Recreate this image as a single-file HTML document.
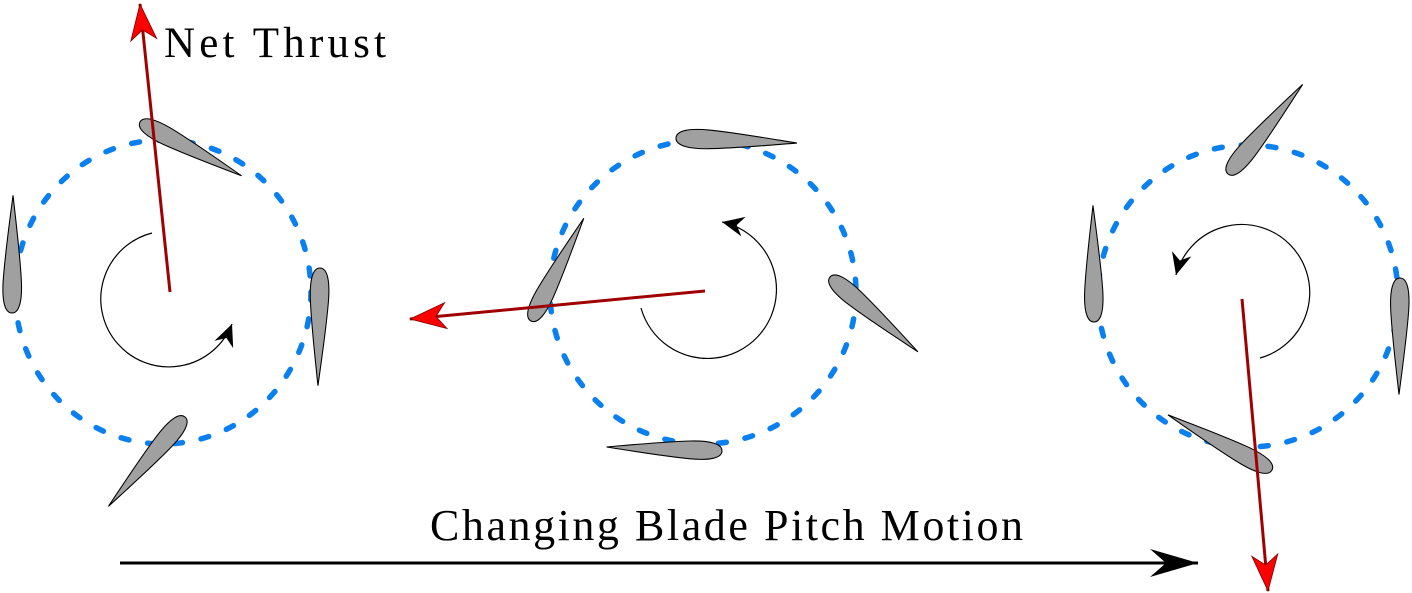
<!DOCTYPE html>
<html><head><meta charset="utf-8"><style>html,body{margin:0;padding:0;background:#fff}svg{display:block}</style></head>
<body>
<svg width="1412" height="593" viewBox="0 0 1412 593" xmlns="http://www.w3.org/2000/svg">
<defs>
<path id="af" d="M0,0 C0,-7 12,-9.5 30,-8.5 C55,-7 85,-3 110,0 C85,3 55,7 30,8.5 C12,9.5 0,7 0,0Z"/>
<marker id="ab" markerUnits="userSpaceOnUse" viewBox="-24 -12 26 24" markerWidth="26" markerHeight="24" refX="0" refY="0" orient="auto">
<path d="M0,0 L-22,-10 L-15,0 L-22,10Z" fill="#000"/></marker>
<marker id="abig" markerUnits="userSpaceOnUse" viewBox="-50 -16 52 32" markerWidth="52" markerHeight="32" refX="0" refY="0" orient="auto">
<path d="M0,0 L-48,-14 L-32,0 L-48,14Z" fill="#000"/></marker>
<marker id="ar" markerUnits="userSpaceOnUse" viewBox="-38 -15 40 30" markerWidth="40" markerHeight="30" refX="0" refY="0" orient="auto">
<path d="M0,0 L-36,-13 L-26,0 L-36,13Z" fill="#f00" stroke="#700" stroke-width="0.8"/></marker>
</defs>
<g fill="none" stroke="#0a80f0" stroke-width="5.5" stroke-dasharray="8 19" stroke-linecap="round">
<ellipse cx="163" cy="292" rx="148" ry="152"/>
<ellipse cx="703" cy="292" rx="153" ry="152"/>
<ellipse cx="1248" cy="296" rx="150" ry="151"/>
</g>
<g fill="#a0a0a0" stroke="#000" stroke-width="1">
<use href="#af" transform="translate(140,122) rotate(27.9) scale(1.045)"/>
<use href="#af" transform="translate(12,313) rotate(-89.5) scale(1.07)"/>
<use href="#af" transform="translate(320,268) rotate(91) scale(1.07)"/>
<use href="#af" transform="translate(185,417) rotate(130.6) scale(1.07)"/>
<use href="#af" transform="translate(676,138) rotate(2.4) scale(1.1)"/>
<use href="#af" transform="translate(531,321) rotate(-62.8) scale(1.05)"/>
<use href="#af" transform="translate(830,277) rotate(40.4) scale(1.05)"/>
<use href="#af" transform="translate(722,451) rotate(182) scale(1.05)"/>
<use href="#af" transform="translate(1228,174) rotate(-50.2) scale(1.06)"/>
<use href="#af" transform="translate(1094,322) rotate(-90.5) scale(1.06)"/>
<use href="#af" transform="translate(1400,278) rotate(90.5) scale(1.06)"/>
<use href="#af" transform="translate(1272,470) rotate(207.9) scale(1.07)"/>
</g>
<g fill="none" stroke="#000" stroke-width="1.2">
<path d="M152,233 A68,68 0 1 0 232,324" marker-end="url(#ab)"/>
<path d="M641,308 A69,69 0 1 0 722,222" marker-end="url(#ab)"/>
<path d="M1260,358 A68,68 0 1 0 1176,275" marker-end="url(#ab)"/>
</g>
<g stroke="#a00000" stroke-width="3" fill="none">
<line x1="170" y1="292" x2="140" y2="4" marker-end="url(#ar)"/>
<line x1="705" y1="291" x2="410" y2="319" marker-end="url(#ar)"/>
<line x1="1242" y1="299" x2="1268" y2="591" marker-end="url(#ar)"/>
</g>
<line x1="120" y1="563" x2="1198" y2="563" stroke="#000" stroke-width="3" marker-end="url(#abig)"/>
<g font-family="'Liberation Serif', serif" fill="#000">
<text x="164" y="57" font-size="43" textLength="222" lengthAdjust="spacing">Net Thrust</text>
<text x="430" y="540" font-size="44" textLength="593" lengthAdjust="spacing">Changing Blade Pitch Motion</text>
</g>
</svg>
</body></html>
